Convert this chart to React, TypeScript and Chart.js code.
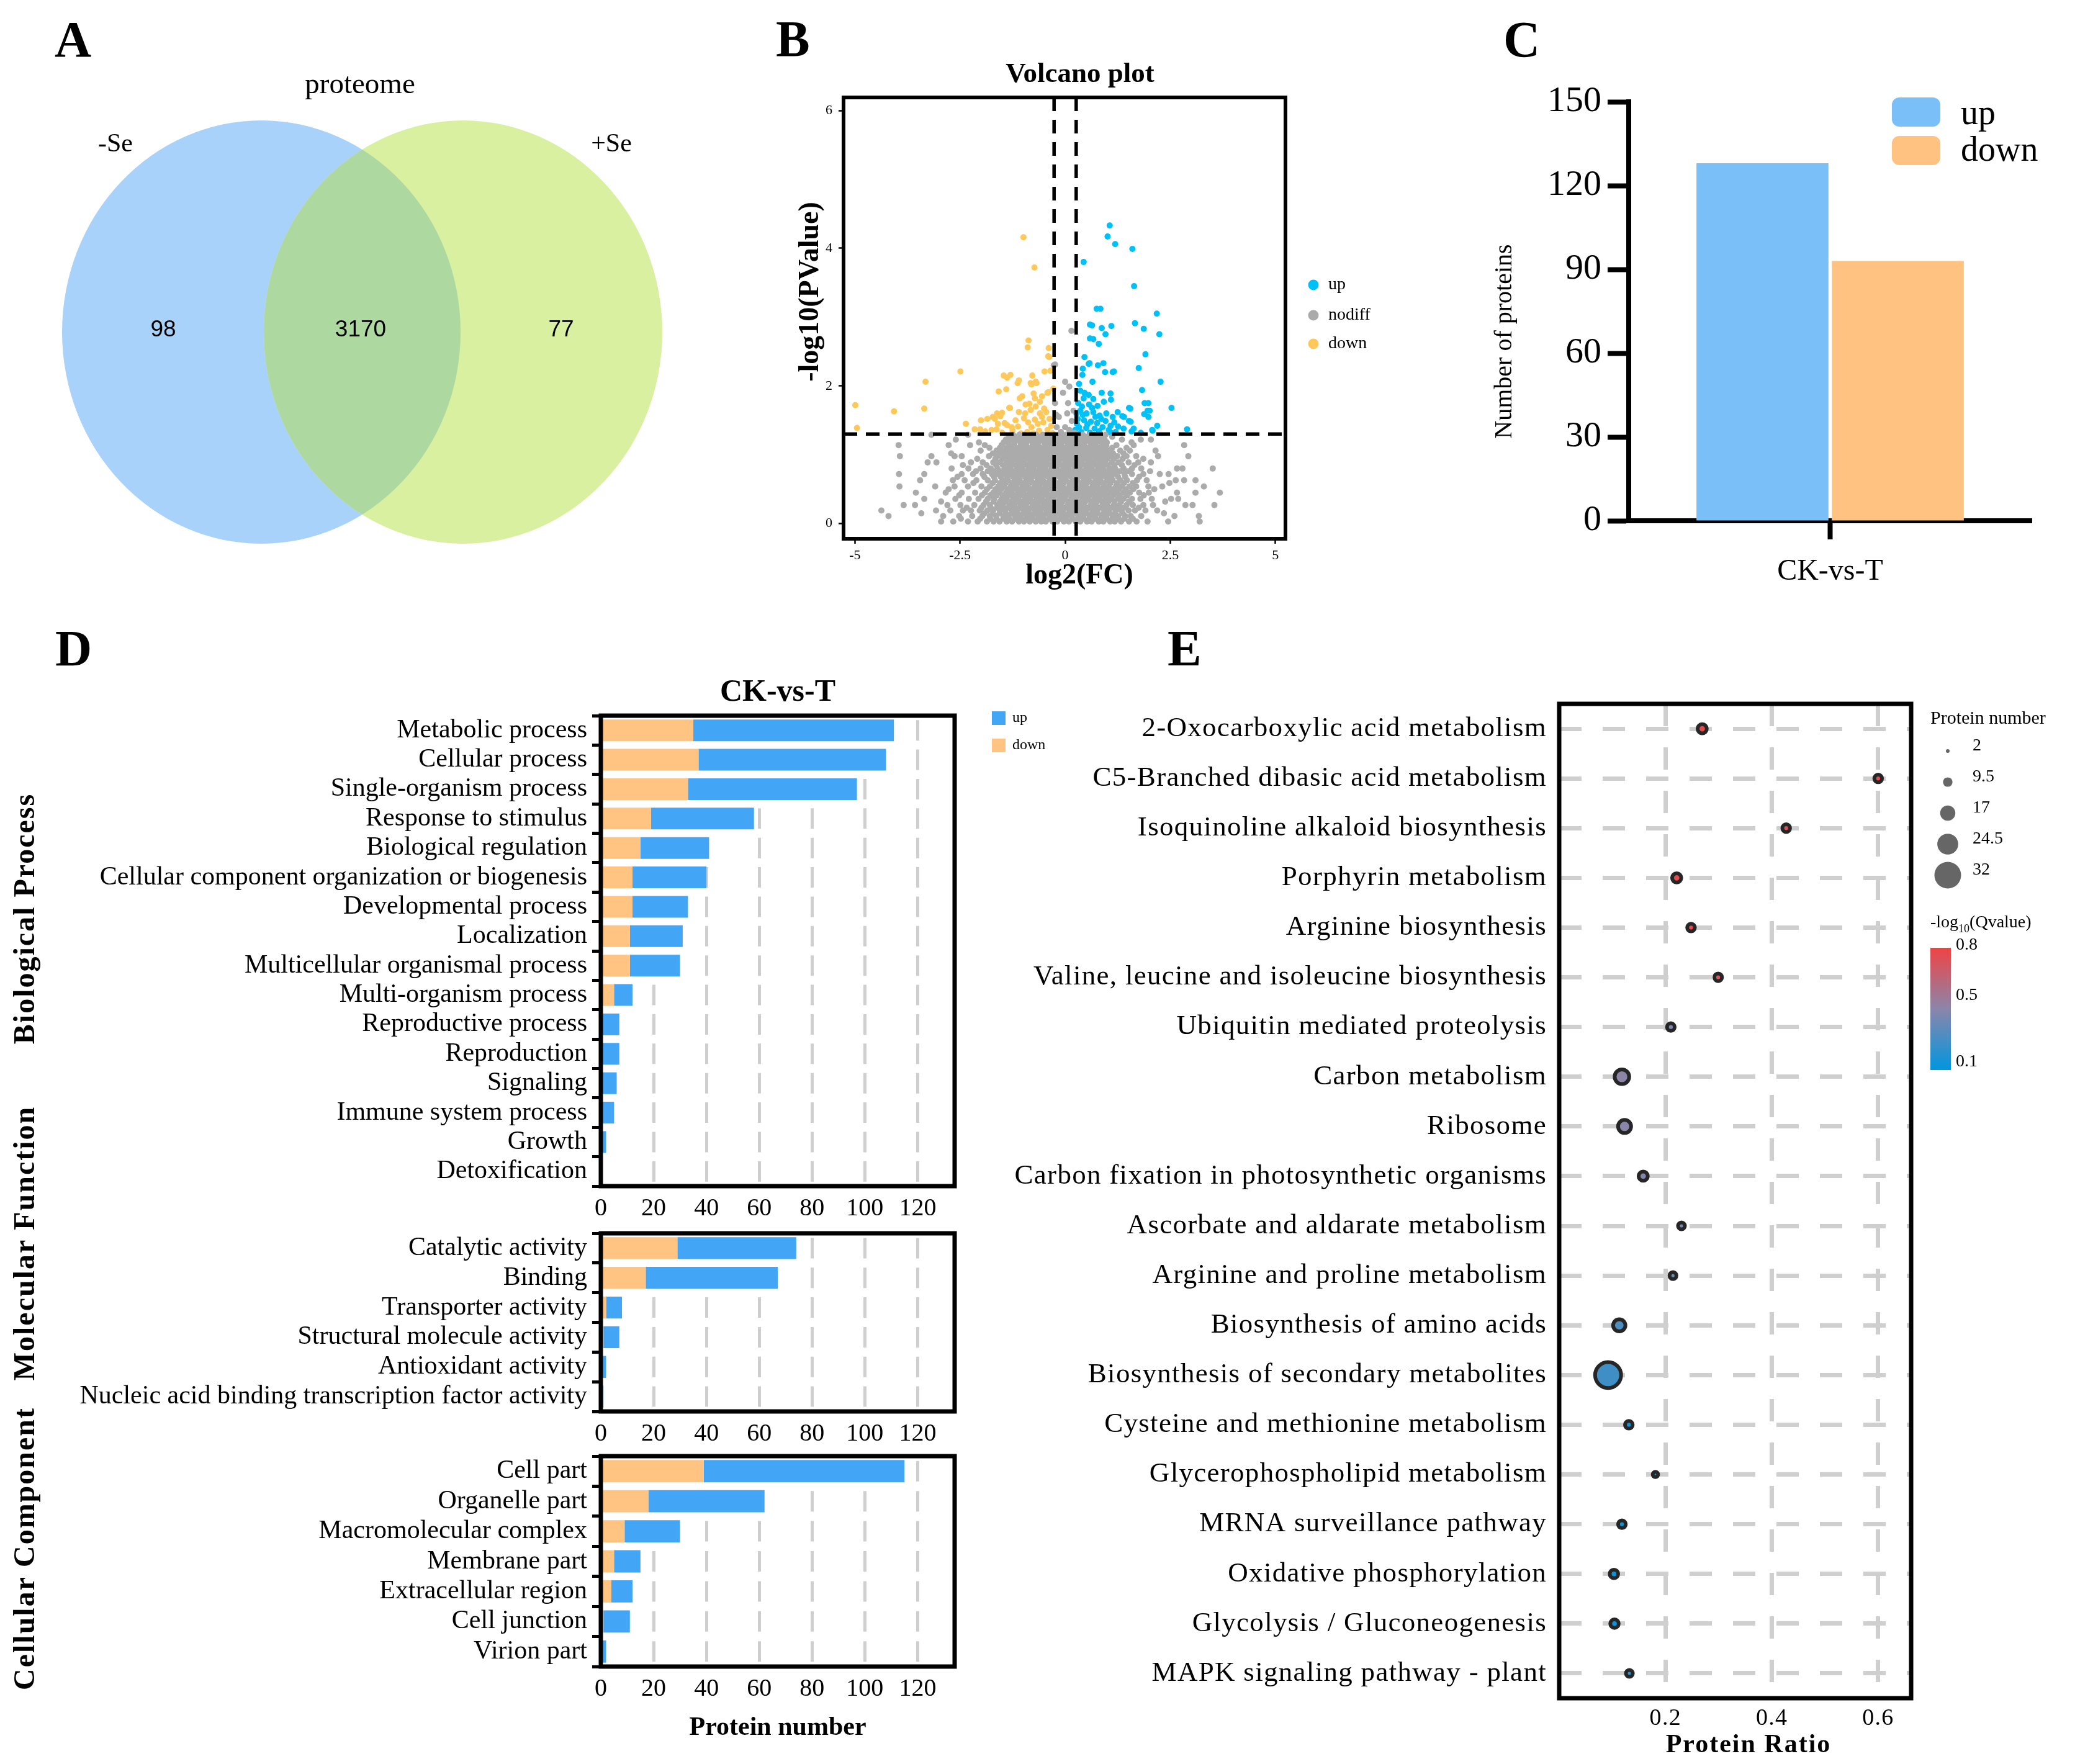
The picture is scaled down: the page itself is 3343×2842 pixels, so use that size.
import React, { useEffect, useRef } from 'react';
import { Chart, registerables } from 'chart.js';

Chart.register(...registerables);

const SERIF = "'Liberation Serif', 'Times New Roman', Times, serif";
const SANS = "'Liberation Sans', Arial, Helvetica, sans-serif";

// ---------------- A: Venn ----------------
const VENN_TITLE = 'proteome';
const VENN_SETS = ['-Se', '+Se'];
const VENN_COUNTS = [98, 3170, 77]; // only -Se, shared, only +Se

// ---------------- B: Volcano ----------------
const VOLCANO_X_TICKS = [-5, -2.5, 0, 2.5, 5];
const VOLCANO_Y_TICKS = [0, 2, 4, 6];
const FC_CUTOFFS = [-0.263, 0.263];
const P_CUTOFF = 1.301;
const VOLCANO_GROUPS = ['up', 'nodiff', 'down'];

const UP_POINTS = [
  [1.06, 4.33], [1.01, 4.17], [1.19, 4.06], [1.60, 3.99], [0.44, 3.80], [1.64, 3.45],
  [0.75, 3.12], [0.84, 3.12], [2.18, 3.05], [1.66, 2.91], [0.59, 2.89], [0.64, 2.88],
  [1.10, 2.87], [0.87, 2.84], [1.87, 2.83], [0.96, 2.75], [2.24, 2.75], [0.59, 2.69],
  [0.67, 2.68], [0.80, 2.61], [1.91, 2.46], [0.46, 2.42], [0.58, 2.33], [0.91, 2.33],
  [0.78, 2.30], [0.56, 2.32], [1.75, 2.26], [0.42, 2.25], [0.95, 2.20], [1.13, 2.20],
  [1.16, 2.21], [0.41, 2.16], [2.27, 2.06], [0.33, 2.03], [0.65, 2.06], [1.83, 1.94],
  [0.36, 1.93], [0.46, 1.90], [0.56, 1.87], [0.87, 1.90], [1.08, 1.89], [0.44, 1.82],
  [0.67, 1.81], [1.09, 1.80], [0.92, 1.77], [1.89, 1.75], [1.98, 1.75], [0.31, 1.75],
  [0.57, 1.73], [0.77, 1.71], [0.40, 1.70], [2.53, 1.68], [1.52, 1.68], [1.55, 1.67],
  [0.64, 1.68], [1.96, 1.64], [2.01, 1.64], [0.36, 1.64], [0.67, 1.62], [1.25, 1.62],
  [0.27, 1.60], [0.51, 1.60], [0.98, 1.60], [1.88, 1.59], [0.42, 1.58], [0.82, 1.57],
  [1.13, 1.55], [1.36, 1.56], [1.40, 1.55], [1.98, 1.55], [0.72, 1.55], [0.30, 1.52],
  [0.86, 1.52], [0.45, 1.50], [0.96, 1.49], [1.52, 1.49], [1.56, 1.48], [0.61, 1.48],
  [1.17, 1.47], [0.76, 1.46], [0.28, 1.45], [0.53, 1.44], [2.19, 1.42], [1.08, 1.42],
  [1.26, 1.41], [0.33, 1.40], [0.89, 1.40], [0.50, 1.39], [0.70, 1.38], [1.39, 1.38],
  [1.63, 1.38], [2.90, 1.37], [2.07, 1.36], [1.04, 1.36], [0.24, 1.36], [2.08, 1.35],
  [0.38, 1.33], [0.81, 1.34], [1.58, 1.34], [1.20, 1.33], [0.59, 1.32], [1.80, 1.32],
  [1.09, 1.32],
];

const DOWN_POINTS = [
  [-0.99, 4.16], [-0.73, 3.72], [-0.87, 2.66], [-0.89, 2.56], [-0.39, 2.55], [-0.40, 2.43],
  [-0.38, 2.42], [-2.49, 2.21], [-0.49, 2.21], [-0.35, 2.22], [-1.46, 2.15], [-1.30, 2.16],
  [-1.38, 2.12], [-0.78, 2.15], [-0.70, 2.06], [-3.32, 2.06], [-1.10, 2.08], [-0.82, 2.04],
  [-0.68, 2.04], [-1.13, 2.04], [-0.80, 2.02], [-0.28, 1.96], [-1.40, 1.95], [-1.58, 1.92],
  [-0.42, 1.90], [-0.40, 1.91], [-0.75, 1.89], [-0.55, 1.85], [-1.02, 1.85], [-1.08, 1.82],
  [-0.72, 1.82], [-0.60, 1.77], [-0.85, 1.74], [-0.94, 1.73], [-4.99, 1.72], [-0.70, 1.70],
  [-1.33, 1.68], [-1.31, 1.68], [-3.35, 1.67], [-0.50, 1.67], [-0.82, 1.65], [-4.07, 1.63],
  [-1.10, 1.62], [-0.45, 1.62], [-1.50, 1.61], [-0.95, 1.60], [-0.60, 1.60], [-1.62, 1.60],
  [-1.54, 1.56], [-1.72, 1.55], [-0.55, 1.55], [-0.98, 1.53], [-1.85, 1.52], [-1.67, 1.52],
  [-0.37, 1.52], [-0.72, 1.51], [-2.00, 1.50], [-1.18, 1.50], [-0.88, 1.47], [-0.52, 1.47],
  [-1.44, 1.46], [-2.36, 1.45], [-1.60, 1.45], [-0.65, 1.45], [-1.38, 1.43], [-0.33, 1.42],
  [-1.12, 1.41], [-1.27, 1.40], [-0.80, 1.40], [-4.95, 1.39], [-2.02, 1.37], [-2.15, 1.37],
  [-1.63, 1.37], [-1.75, 1.36], [-0.42, 1.36], [-1.25, 1.35], [-0.62, 1.35], [-0.90, 1.33],
  [-1.50, 1.32], [-1.05, 1.31], [-0.75, 1.31], [-0.30, 1.31], [-1.90, 1.34],
];

// non-significant proteins, read row by row from the dense cloud: [-log10 P, log2FC values]
const NODIFF_ROWS = [
  [0.03, [-2.95, -2.66, -2.31, -2.08, -1.86, -1.70, -1.56, -1.39, -1.26, -1.10, -0.98, -0.84, -0.70, -0.57, -0.46, -0.30, -0.19, -0.03, 0.09, 0.25, 0.36, 0.52, 0.63, 0.80, 0.91, 1.07, 1.18, 1.33, 1.52, 1.70, 1.96, 2.45, 3.20]],
  [0.07, [-2.48, -2.02, -1.78, -1.63, -1.47, -1.33, -1.18, -1.04, -0.91, -0.77, -0.63, -0.51, -0.37, -0.24, -0.11, 0.02, 0.17, 0.30, 0.44, 0.57, 0.72, 0.85, 0.99, 1.12, 1.27, 1.41, 1.61]],
  [0.11, [-4.20, -2.90, -2.52, -2.21, -1.97, -1.79, -1.64, -1.47, -1.35, -1.19, -1.07, -0.91, -0.80, -0.64, -0.52, -0.37, -0.25, -0.10, 0.04, 0.16, 0.32, 0.43, 0.59, 0.71, 0.87, 0.98, 1.14, 1.26, 1.43, 1.56, 1.81, 2.60, 3.18]],
  [0.15, [-3.42, -1.92, -1.72, -1.56, -1.41, -1.27, -1.13, -0.99, -0.85, -0.72, -0.58, -0.44, -0.31, -0.18, -0.04, 0.09, 0.23, 0.37, 0.51, 0.64, 0.78, 0.92, 1.06, 1.19, 1.37, 2.35]],
  [0.19, [-4.37, -3.07, -2.73, -2.43, -2.24, -2.03, -1.85, -1.71, -1.55, -1.43, -1.27, -1.15, -0.99, -0.88, -0.72, -0.60, -0.45, -0.33, -0.17, -0.06, 0.10, 0.22, 0.37, 0.49, 0.65, 0.77, 0.93, 1.04, 1.20, 1.33, 1.51, 1.66, 1.91, 2.19]],
  [0.23, [-2.34, -1.99, -1.77, -1.62, -1.49, -1.36, -1.21, -1.08, -0.94, -0.81, -0.67, -0.54, -0.40, -0.27, -0.13, 0.00, 0.14, 0.27, 0.41, 0.55, 0.68, 0.82, 0.96, 1.10, 1.24, 1.40, 1.75]],
  [0.27, [-3.84, -3.57, -2.80, -2.49, -2.16, -1.94, -1.79, -1.61, -1.48, -1.32, -1.20, -1.05, -0.93, -0.77, -0.65, -0.50, -0.38, -0.22, -0.10, 0.06, 0.18, 0.33, 0.45, 0.61, 0.73, 0.89, 1.00, 1.16, 1.29, 1.46, 1.61, 1.86, 2.09, 2.86, 3.03, 3.55]],
  [0.32, [-2.95, -1.88, -1.70, -1.55, -1.42, -1.28, -1.14, -1.00, -0.87, -0.73, -0.60, -0.46, -0.33, -0.19, -0.06, 0.08, 0.21, 0.35, 0.48, 0.62, 0.76, 0.89, 1.03, 1.17, 1.33, 1.52, 2.38]],
  [0.36, [-3.35, -2.61, -2.29, -2.06, -1.84, -1.69, -1.51, -1.39, -1.23, -1.11, -0.95, -0.84, -0.68, -0.56, -0.40, -0.29, -0.13, -0.01, 0.15, 0.26, 0.42, 0.54, 0.70, 0.82, 0.97, 1.09, 1.26, 1.39, 1.59, 1.79, 2.06, 2.52, 2.69]],
  [0.41, [-2.52, -1.98, -1.78, -1.63, -1.48, -1.34, -1.20, -1.06, -0.92, -0.79, -0.65, -0.51, -0.38, -0.24, -0.10, 0.03, 0.17, 0.31, 0.45, 0.59, 0.73, 0.86, 1.00, 1.15, 1.30, 1.47, 1.87]],
  [0.45, [-3.55, -2.84, -2.46, -2.14, -1.91, -1.71, -1.57, -1.40, -1.28, -1.12, -1.00, -0.84, -0.72, -0.57, -0.45, -0.29, -0.17, -0.02, 0.10, 0.26, 0.38, 0.53, 0.65, 0.81, 0.93, 1.08, 1.21, 1.39, 1.54, 1.76, 1.99, 2.66, 3.10, 3.68]],
  [0.50, [-2.77, -1.86, -1.66, -1.52, -1.37, -1.23, -1.09, -0.95, -0.81, -0.67, -0.54, -0.40, -0.26, -0.12, 0.02, 0.15, 0.29, 0.43, 0.57, 0.71, 0.85, 0.98, 1.13, 1.28, 1.44, 1.62, 2.12]],
  [0.54, [-3.94, -3.09, -2.63, -2.31, -1.99, -1.79, -1.59, -1.45, -1.29, -1.17, -1.01, -0.89, -0.73, -0.61, -0.46, -0.34, -0.18, -0.06, 0.10, 0.21, 0.37, 0.49, 0.65, 0.77, 0.92, 1.04, 1.21, 1.35, 1.53, 1.69, 1.98, 2.31, 3.30]],
  [0.59, [-2.18, -1.72, -1.55, -1.41, -1.26, -1.12, -0.98, -0.85, -0.71, -0.57, -0.43, -0.30, -0.16, -0.03, 0.11, 0.25, 0.39, 0.52, 0.66, 0.80, 0.93, 1.08, 1.24, 1.40, 1.61, 2.48]],
  [0.63, [-3.45, -2.67, -2.39, -2.11, -1.84, -1.67, -1.49, -1.36, -1.20, -1.08, -0.92, -0.81, -0.65, -0.53, -0.37, -0.26, -0.10, 0.02, 0.18, 0.29, 0.45, 0.57, 0.73, 0.84, 1.00, 1.13, 1.31, 1.47, 1.71, 1.94, 2.63, 2.83, 3.10]],
  [0.68, [-2.56, -1.92, -1.69, -1.53, -1.38, -1.24, -1.10, -0.96, -0.82, -0.69, -0.55, -0.41, -0.27, -0.14, 0.00, 0.14, 0.28, 0.41, 0.55, 0.69, 0.83, 0.96, 1.10, 1.26, 1.43, 1.76]],
  [0.72, [-3.95, -3.35, -2.46, -2.19, -1.96, -1.74, -1.59, -1.42, -1.29, -1.13, -1.01, -0.85, -0.73, -0.58, -0.46, -0.30, -0.18, -0.03, 0.09, 0.25, 0.37, 0.52, 0.64, 0.80, 0.92, 1.07, 1.21, 1.41, 1.59, 1.86, 2.25, 2.46]],
  [0.76, [-2.12, -1.84, -1.66, -1.51, -1.36, -1.22, -1.08, -0.94, -0.80, -0.66, -0.53, -0.39, -0.25, -0.11, 0.02, 0.16, 0.30, 0.44, 0.58, 0.72, 0.85, 0.99, 1.13, 1.30, 1.50, 2.02]],
  [0.80, [-2.70, -2.30, -2.01, -1.77, -1.61, -1.43, -1.30, -1.14, -1.02, -0.86, -0.75, -0.59, -0.47, -0.31, -0.20, -0.04, 0.08, 0.24, 0.35, 0.51, 0.63, 0.79, 0.90, 1.06, 1.19, 1.39, 1.59, 1.81, 2.66, 2.79, 3.51]],
  [0.85, [-2.43, -1.87, -1.64, -1.48, -1.33, -1.19, -1.05, -0.91, -0.78, -0.64, -0.50, -0.36, -0.23, -0.09, 0.05, 0.19, 0.32, 0.46, 0.60, 0.74, 0.87, 1.01, 1.17, 1.35, 1.65]],
  [0.89, [-3.27, -3.06, -2.24, -1.96, -1.71, -1.56, -1.39, -1.27, -1.11, -0.99, -0.83, -0.71, -0.56, -0.44, -0.28, -0.16, 0.00, 0.12, 0.27, 0.39, 0.55, 0.67, 0.82, 0.94, 1.11, 1.27, 1.51, 1.74, 2.04]],
  [0.94, [-2.09, -1.66, -1.49, -1.34, -1.20, -1.06, -0.93, -0.79, -0.65, -0.51, -0.38, -0.24, -0.10, 0.03, 0.17, 0.31, 0.45, 0.59, 0.72, 0.86, 1.00, 1.16, 1.37, 1.86]],
  [0.98, [-3.93, -3.18, -2.63, -2.46, -1.81, -1.61, -1.42, -1.30, -1.14, -1.02, -0.86, -0.74, -0.59, -0.47, -0.31, -0.19, -0.04, 0.08, 0.24, 0.36, 0.51, 0.63, 0.79, 0.91, 1.07, 1.24, 1.46, 1.69, 2.21, 2.93]],
  [1.02, [-2.71, -1.72, -1.52, -1.37, -1.22, -1.08, -0.94, -0.81, -0.67, -0.53, -0.40, -0.26, -0.12, 0.01, 0.15, 0.29, 0.42, 0.56, 0.70, 0.84, 0.97, 1.14, 1.39]],
  [1.06, [-2.01, -1.63, -1.44, -1.31, -1.15, -1.03, -0.87, -0.75, -0.60, -0.48, -0.32, -0.20, -0.04, 0.07, 0.23, 0.35, 0.51, 0.63, 0.78, 0.90, 1.04, 1.31, 1.54, 2.15]],
  [1.10, [-1.80, -1.55, -1.39, -1.25, -1.11, -0.97, -0.83, -0.69, -0.55, -0.42, -0.28, -0.14, 0.00, 0.13, 0.27, 0.41, 0.55, 0.69, 0.83, 0.96, 1.12, 1.46]],
  [1.14, [-3.96, -2.77, -2.26, -1.91, -1.51, -1.33, -1.21, -1.05, -0.93, -0.77, -0.65, -0.49, -0.37, -0.22, -0.10, 0.06, 0.18, 0.34, 0.45, 0.61, 0.73, 0.89, 0.98, 1.22, 1.63, 2.83]],
  [1.18, [-2.05, -1.46, -1.35, -1.20, -1.06, -0.92, -0.78, -0.64, -0.50, -0.37, -0.23, -0.09, 0.04, 0.18, 0.32, 0.46, 0.60, 0.74, 0.87, 0.99, 1.58]],
  [1.22, [-2.60, -1.41, -1.28, -1.12, -1.00, -0.84, -0.72, -0.56, -0.44, -0.28, -0.17, -0.01, 0.11, 0.27, 0.39, 0.54, 0.66, 0.82, 0.94, 1.35, 1.80, 2.04]],
  [1.26, [-1.33, -1.18, -1.04, -0.90, -0.76, -0.62, -0.49, -0.35, -0.21, -0.07, 0.07, 0.21, 0.35, 0.49, 0.63, 0.77, 0.91, 1.12]],
  [1.29, [-3.18, -2.31, -1.24, -1.09, -0.97, -0.81, -0.69, -0.53, -0.41, -0.25, -0.13, 0.02, 0.14, 0.30, 0.42, 0.58, 0.69, 0.85, 0.96]],
];
const NODIFF_EXTRA = [
  [0.15, 2.80], [-0.27, 2.30], [-0.24, 2.31], [0.00, 2.06], [0.10, 1.99], [-0.05, 1.90],
  [-0.24, 1.75], [0.07, 1.75], [0.20, 1.64], [0.05, 1.60], [-0.21, 1.58], [-0.15, 1.55],
  [0.16, 1.49], [0.00, 1.40], [-0.20, 1.40], [0.10, 1.36], [-0.10, 1.33], [0.22, 1.32],
];

// ---------------- C: counts ----------------
const C_CATEGORIES = ['CK-vs-T'];
const C_UP = [128];
const C_DOWN = [93];
const C_Y_TICKS = [0, 30, 60, 90, 120, 150];

// ---------------- D: GO classification ----------------
const D_X_TICKS = [0, 20, 40, 60, 80, 100, 120];
const BP_LABELS = [
  'Metabolic process', 'Cellular process', 'Single-organism process', 'Response to stimulus',
  'Biological regulation', 'Cellular component organization or biogenesis', 'Developmental process',
  'Localization', 'Multicellular organismal process', 'Multi-organism process', 'Reproductive process',
  'Reproduction', 'Signaling', 'Immune system process', 'Growth', 'Detoxification',
];
const BP_DOWN = [35, 37, 33, 19, 15, 12, 12, 11, 11, 5, 0, 0, 0, 0, 0, 0];
const BP_UP = [76, 71, 64, 39, 26, 28, 21, 20, 19, 7, 7, 7, 6, 5, 2, 0];
const MF_LABELS = [
  'Catalytic activity', 'Binding', 'Transporter activity', 'Structural molecule activity',
  'Antioxidant activity', 'Nucleic acid binding transcription factor activity',
];
const MF_DOWN = [29, 17, 2, 1, 0, 0];
const MF_UP = [45, 50, 6, 6, 2, 1];
const CC_LABELS = [
  'Cell part', 'Organelle part', 'Macromolecular complex', 'Membrane part',
  'Extracellular region', 'Cell junction', 'Virion part',
];
const CC_DOWN = [39, 18, 9, 5, 4, 1, 0];
const CC_UP = [76, 44, 21, 10, 8, 10, 2];

// ---------------- E: KEGG enrichment ----------------
const KEGG_TERMS = [
  '2-Oxocarboxylic acid metabolism', 'C5-Branched dibasic acid metabolism',
  'Isoquinoline alkaloid biosynthesis', 'Porphyrin metabolism', 'Arginine biosynthesis',
  'Valine, leucine and isoleucine biosynthesis', 'Ubiquitin mediated proteolysis',
  'Carbon metabolism', 'Ribosome', 'Carbon fixation in photosynthetic organisms',
  'Ascorbate and aldarate metabolism', 'Arginine and proline metabolism',
  'Biosynthesis of amino acids', 'Biosynthesis of secondary metabolites',
  'Cysteine and methionine metabolism', 'Glycerophospholipid metabolism',
  'MRNA surveillance pathway', 'Oxidative phosphorylation', 'Glycolysis / Gluconeogenesis',
  'MAPK signaling pathway - plant',
];
const KEGG_RATIO = [0.269, 0.600, 0.427, 0.221, 0.248, 0.299, 0.210, 0.118, 0.123, 0.158,
  0.230, 0.214, 0.113, 0.092, 0.131, 0.181, 0.118, 0.103, 0.104, 0.132];
const KEGG_COUNT = [14, 12, 12, 14, 12, 12, 12, 21, 19, 14, 11, 11, 18, 36, 12, 9, 12, 13, 13, 11];
const KEGG_NEGLOGQ = [0.78, 0.76, 0.72, 0.77, 0.77, 0.70, 0.42, 0.46, 0.45, 0.43,
  0.40, 0.38, 0.30, 0.26, 0.14, 0.15, 0.13, 0.12, 0.12, 0.20];
const E_X_TICKS = [0.2, 0.4, 0.6];
const SIZE_BREAKS = [2, 9.5, 17, 24.5, 32];
const Q_BREAKS = [0.8, 0.5, 0.1];

// ---------------- styling helpers ----------------
const COL = {
  vennL: '#A8D2FA', vennR: '#D8F0A0', vennMid: '#ADD9A0',
  up: '#00C0F8', nodiff: '#ABABAB', down: '#FFC85A',
  cUp: '#7BBFF9', cDown: '#FFC280',
  dUp: '#42A5F5', dDown: '#FFC382',
  grid: '#CFCFCF',
};

function qColor(q: number) {
  const stops: [number, number[]][] = [[0.1, [0, 150, 222]], [0.45, [138, 134, 170]], [0.8, [238, 68, 68]]];
  const v = Math.max(0.1, Math.min(0.8, q));
  let i = 0;
  while (i < stops.length - 2 && v > stops[i + 1][0]) i++;
  const [a, ca] = stops[i];
  const [b, cb] = stops[i + 1];
  const t = (v - a) / (b - a);
  const c = ca.map((x, k) => Math.round(x + (cb[k] - x) * t));
  return `rgb(${c[0]},${c[1]},${c[2]})`;
}
const sizeDiameter = (n: number) => 6 + 1.233 * (n - 2);
const E_BORDER = 6;

type TextItem = {
  t: string; x: number; y: number; size: number; bold?: boolean; family?: string;
  align?: CanvasTextAlign; base?: CanvasTextBaseline; rot?: number; spacing?: number;
};

function textPlugin(id: string, items: TextItem[]) {
  return {
    id,
    afterDraw(chart: any) {
      const ctx = chart.ctx;
      for (const it of items) {
        ctx.save();
        ctx.translate(it.x, it.y);
        if (it.rot) ctx.rotate(it.rot);
        ctx.font = `${it.bold ? 'bold ' : ''}${it.size}px ${it.family || SERIF}`;
        if ('letterSpacing' in ctx) (ctx as any).letterSpacing = `${it.spacing || 0}px`;
        ctx.fillStyle = '#000';
        ctx.textAlign = it.align || 'center';
        ctx.textBaseline = it.base || 'alphabetic';
        ctx.fillText(it.t, 0, 0);
        ctx.restore();
      }
    },
  };
}

// widens the lettering of a whole chart (the reference text is slightly stretched)
function spacingPlugin(px: number) {
  return {
    id: 'spacing',
    beforeDraw(chart: any) {
      if ('letterSpacing' in chart.ctx) chart.ctx.letterSpacing = `${px}px`;
    },
    afterDraw(chart: any) {
      if ('letterSpacing' in chart.ctx) chart.ctx.letterSpacing = '0px';
    },
  };
}

function framePlugin(width: number) {
  return {
    id: 'frame',
    afterDatasetsDraw(chart: any) {
      const { left, top, right, bottom } = chart.chartArea;
      const ctx = chart.ctx;
      ctx.save();
      ctx.lineWidth = width;
      ctx.strokeStyle = '#000';
      ctx.strokeRect(left, top, right - left, bottom - top);
      ctx.restore();
    },
  };
}

function baseOptions(padding: any) {
  return {
    responsive: false,
    animation: false,
    devicePixelRatio: 1,
    events: [],
    layout: { padding },
    plugins: { legend: { display: false }, tooltip: { enabled: false }, title: { display: false } },
  };
}

const fixedTicks = (vals: number[]) => (s: any) => { s.ticks = vals.map((v) => ({ value: v })); };

// ---------------- A ----------------
const VENN_LAYOUT = {
  ellipses: [
    { cx: 421, cy: 535, rx: 321, ry: 341 },
    { cx: 746, cy: 535, rx: 321, ry: 341 },
  ],
  countPos: [[263, 542], [581, 542], [904, 542]],
  setPos: [[186, 244], [985, 244]],
  titlePos: [580, 150],
};

const vennPlugin = {
  id: 'venn',
  beforeDatasetsDraw(chart: any) {
    const { ctx } = chart;
    const { x, y } = chart.scales;
    const sx = Math.abs(x.getPixelForValue(1) - x.getPixelForValue(0));
    const sy = Math.abs(y.getPixelForValue(1) - y.getPixelForValue(0));
    const path = (e: any) => {
      ctx.beginPath();
      ctx.ellipse(x.getPixelForValue(e.cx), y.getPixelForValue(e.cy), e.rx * sx, e.ry * sy, 0, 0, Math.PI * 2);
    };
    const [L, R] = VENN_LAYOUT.ellipses;
    ctx.save();
    path(L); ctx.fillStyle = COL.vennL; ctx.fill();
    path(R); ctx.fillStyle = COL.vennR; ctx.fill();
    path(L); ctx.clip();
    path(R); ctx.fillStyle = COL.vennMid; ctx.fill();
    ctx.restore();

    ctx.save();
    ctx.fillStyle = '#000';
    ctx.textAlign = 'center';
    ctx.textBaseline = 'alphabetic';
    ctx.font = `37px ${SANS}`;
    VENN_COUNTS.forEach((c, i) => {
      const [px, py] = VENN_LAYOUT.countPos[i];
      ctx.fillText(String(c), x.getPixelForValue(px), y.getPixelForValue(py));
    });
    ctx.font = `42px ${SERIF}`;
    VENN_SETS.forEach((s, i) => {
      const [px, py] = VENN_LAYOUT.setPos[i];
      ctx.fillText(s, x.getPixelForValue(px), y.getPixelForValue(py));
    });
    ctx.font = `47px ${SERIF}`;
    ctx.fillText(VENN_TITLE, x.getPixelForValue(VENN_LAYOUT.titlePos[0]), y.getPixelForValue(VENN_LAYOUT.titlePos[1]));
    ctx.restore();
  },
};

function vennConfig() {
  return {
    type: 'scatter',
    data: { datasets: [{ data: [], pointRadius: 0 }] },
    options: {
      ...baseOptions({ left: 0, right: 0, top: 0, bottom: 0 }),
      scales: {
        x: { type: 'linear', min: 0, max: 1100, display: false },
        y: { type: 'linear', min: 0, max: 900, reverse: true, display: false },
      },
    },
    plugins: [vennPlugin, textPlugin('aText', [{ t: 'A', x: 88, y: 91, size: 82, bold: true, align: 'left' }])],
  };
}

// ---------------- B ----------------
const thresholdPlugin = {
  id: 'thresholds',
  afterDatasetsDraw(chart: any) {
    const { ctx, chartArea } = chart;
    const { x, y } = chart.scales;
    ctx.save();
    ctx.strokeStyle = '#000';
    ctx.lineWidth = 5.5;
    ctx.setLineDash([22, 14]);
    FC_CUTOFFS.forEach((v) => {
      const px = x.getPixelForValue(v);
      ctx.beginPath(); ctx.moveTo(px, chartArea.top); ctx.lineTo(px, chartArea.bottom); ctx.stroke();
    });
    const py = y.getPixelForValue(P_CUTOFF);
    ctx.beginPath(); ctx.moveTo(chartArea.left, py); ctx.lineTo(chartArea.right, py); ctx.stroke();
    ctx.restore();
  },
};

const volcanoLegend = {
  id: 'volcanoLegend',
  afterDraw(chart: any) {
    const ctx = chart.ctx;
    const colors: any = { up: COL.up, nodiff: COL.nodiff, down: COL.down };
    const ys = [459, 508, 554];
    ctx.save();
    VOLCANO_GROUPS.forEach((g, i) => {
      ctx.beginPath(); ctx.arc(896, ys[i], 8.5, 0, Math.PI * 2); ctx.fillStyle = colors[g]; ctx.fill();
      ctx.fillStyle = '#000'; ctx.font = `28px ${SERIF}`; ctx.textAlign = 'left'; ctx.textBaseline = 'middle';
      ctx.fillText(g, 920, ys[i]);
    });
    ctx.restore();
  },
};

function volcanoConfig() {
  const nodiff: any[] = [];
  NODIFF_ROWS.forEach(([yv, xs]: any) => xs.forEach((xv: number) => nodiff.push({ x: xv, y: yv })));
  NODIFF_EXTRA.forEach(([xv, yv]) => nodiff.push({ x: xv, y: yv }));
  const pts = (arr: number[][]) => arr.map(([xv, yv]) => ({ x: xv, y: yv }));
  const ds = (label: string, data: any[], color: string) => ({
    label, data, pointRadius: 5, pointBackgroundColor: color, pointBorderWidth: 0, pointBorderColor: color,
  });
  return {
    type: 'scatter',
    data: {
      datasets: [
        ds('nodiff', nodiff, COL.nodiff),
        ds('up', pts(UP_POINTS), COL.up),
        ds('down', pts(DOWN_POINTS), COL.down),
      ],
    },
    options: {
      ...baseOptions({ left: 0, right: 289, top: 157, bottom: 0 }),
      scales: {
        x: {
          type: 'linear', min: -5.27, max: 5.24,
          afterBuildTicks: fixedTicks(VOLCANO_X_TICKS),
          afterFit: (s: any) => { s.height = 112; },
          grid: { drawOnChartArea: false, drawTicks: true, tickLength: 8, tickWidth: 2.5, tickColor: '#000' },
          border: { display: false },
          ticks: { font: { size: 22, family: SERIF }, color: '#000', padding: 6, maxRotation: 0, callback: (v: any) => String(v) },
        },
        y: {
          type: 'linear', min: -0.22, max: 6.19,
          afterBuildTicks: fixedTicks(VOLCANO_Y_TICKS),
          afterFit: (s: any) => { s.width = 139; },
          grid: { drawOnChartArea: false, drawTicks: true, tickLength: 8, tickWidth: 2.5, tickColor: '#000' },
          border: { display: false },
          ticks: { font: { size: 22, family: SERIF }, color: '#000', padding: 10, callback: (v: any) => String(v) },
        },
      },
    },
    plugins: [
      thresholdPlugin, framePlugin(6), volcanoLegend,
      textPlugin('bText', [
        { t: 'B', x: 30, y: 90, size: 82, bold: true, align: 'left' },
        { t: 'Volcano plot', x: 520, y: 132, size: 45, bold: true },
        { t: 'log2(FC)', x: 519, y: 940, size: 46, bold: true },
        { t: '-log10(PValue)', x: 86, y: 470, size: 46, bold: true, base: 'middle', rot: -Math.PI / 2 },
      ]),
    ],
  };
}

// ---------------- C ----------------
const cLegend = {
  id: 'cLegend',
  afterDraw(chart: any) {
    const ctx = chart.ctx;
    const items = [
      { label: 'up', color: COL.cUp, top: 157, base: 200 },
      { label: 'down', color: COL.cDown, top: 219, base: 259 },
    ];
    ctx.save();
    items.forEach((it) => {
      ctx.beginPath();
      if (ctx.roundRect) ctx.roundRect(668, it.top, 78, 47, 12); else ctx.rect(668, it.top, 78, 47);
      ctx.fillStyle = it.color; ctx.fill();
      ctx.fillStyle = '#000'; ctx.font = `56px ${SERIF}`; ctx.textAlign = 'left'; ctx.textBaseline = 'alphabetic';
      ctx.fillText(it.label, 779, it.base);
    });
    ctx.restore();
  },
};

function barConfig() {
  return {
    type: 'bar',
    data: {
      labels: C_CATEGORIES,
      datasets: [
        { label: 'up', data: C_UP, backgroundColor: COL.cUp, categoryPercentage: 0.672, barPercentage: 0.975 },
        { label: 'down', data: C_DOWN, backgroundColor: COL.cDown, categoryPercentage: 0.672, barPercentage: 0.975 },
      ],
    },
    options: {
      ...baseOptions({ left: 0, right: 70, top: 164, bottom: 0 }),
      scales: {
        x: {
          afterFit: (s: any) => { s.height = 141; },
          grid: { offset: false, drawOnChartArea: false, drawTicks: true, tickLength: 30, tickWidth: 8, tickColor: '#000' },
          border: { display: true, color: '#000', width: 8 },
          ticks: { font: { size: 48, family: SERIF }, color: '#000', padding: 24 },
        },
        y: {
          min: 0, max: 150,
          afterBuildTicks: fixedTicks(C_Y_TICKS),
          afterFit: (s: any) => { s.width = 244; },
          grid: { drawOnChartArea: false, drawTicks: true, tickLength: 34, tickWidth: 8, tickColor: '#000' },
          border: { display: true, color: '#000', width: 8 },
          ticks: { font: { size: 58, family: SERIF }, color: '#000', padding: 10, callback: (v: any) => String(v) },
        },
      },
    },
    plugins: [
      cLegend,
      textPlugin('cText', [
        { t: 'C', x: 42, y: 91, size: 82, bold: true, align: 'left' },
        { t: 'Number of proteins', x: 44, y: 550, size: 40, base: 'middle', rot: -Math.PI / 2 },
      ]),
    ],
  };
}

// ---------------- D ----------------
const D_W = 1760;
const D_H = 1842;
const D_LEFT = 968;
const D_RIGHT = 1538;

const dLegend = {
  id: 'dLegend',
  afterDraw(chart: any) {
    const ctx = chart.ctx;
    const items = [{ label: 'up', color: COL.dUp, y: 157 }, { label: 'down', color: COL.dDown, y: 201 }];
    ctx.save();
    items.forEach((it) => {
      ctx.fillStyle = it.color; ctx.fillRect(1598, it.y - 11, 22, 22);
      ctx.fillStyle = '#000'; ctx.font = `24px ${SERIF}`; ctx.textAlign = 'left'; ctx.textBaseline = 'middle';
      ctx.fillText(it.label, 1631, it.y);
    });
    ctx.restore();
  },
};

function dConfig(labels: string[], down: number[], up: number[], top: number, bottom: number, extra: any[]) {
  const catH = (bottom - top) / labels.length;
  const dash = 33;
  const gap = catH - dash;
  const dashOffset = catH - gap / 2;
  return {
    type: 'bar',
    data: {
      labels,
      datasets: [
        { label: 'down', data: down, backgroundColor: COL.dDown, barPercentage: 0.74, categoryPercentage: 1 },
        { label: 'up', data: up, backgroundColor: COL.dUp, barPercentage: 0.74, categoryPercentage: 1 },
      ],
    },
    options: {
      ...baseOptions({ left: 0, right: D_W - D_RIGHT, top, bottom: 0 }),
      indexAxis: 'y',
      scales: {
        x: {
          type: 'linear', stacked: true, min: 0, max: 134,
          afterBuildTicks: fixedTicks(D_X_TICKS),
          afterFit: (s: any) => { s.height = D_H - bottom; },
          grid: {
            color: (c: any) => (c.tick && c.tick.value === 0 ? 'rgba(0,0,0,0)' : COL.grid),
            lineWidth: 5, drawTicks: false,
          },
          border: { display: false, dash: [dash, gap], dashOffset },
          ticks: { font: { size: 40, family: SERIF }, color: '#000', padding: 12, maxRotation: 0, callback: (v: any) => String(v) },
        },
        y: {
          type: 'category', stacked: true,
          afterFit: (s: any) => { s.width = D_LEFT; },
          grid: { drawOnChartArea: false, drawTicks: true, tickLength: 14, tickWidth: 5, tickColor: '#000' },
          border: { display: false },
          ticks: { font: { size: 42, family: SERIF }, color: '#000', padding: 8, autoSkip: false },
        },
      },
    },
    plugins: [framePlugin(7), ...extra],
  };
}

const bpConfig = () => dConfig(BP_LABELS, BP_DOWN, BP_UP, 153, 911, [
  dLegend,
  textPlugin('dText', [
    { t: 'D', x: 89, y: 72, size: 82, bold: true, align: 'left' },
    { t: 'CK-vs-T', x: 1253, y: 129, size: 50, bold: true },
    { t: 'Biological Process', x: 43, y: 480, size: 48, bold: true, base: 'middle', rot: -Math.PI / 2, spacing: 2 },
    { t: 'Molecular Function', x: 43, y: 1003, size: 48, bold: true, base: 'middle', rot: -Math.PI / 2, spacing: 2 },
    { t: 'Cellular Component', x: 43, y: 1495, size: 48, bold: true, base: 'middle', rot: -Math.PI / 2, spacing: 2 },
    { t: 'Protein number', x: 1253, y: 1795, size: 42, bold: true },
  ]),
]);
const mfConfig = () => dConfig(MF_LABELS, MF_DOWN, MF_UP, 987, 1274, []);
const ccConfig = () => dConfig(CC_LABELS, CC_DOWN, CC_UP, 1346, 1685, []);

// ---------------- E ----------------
const keggLegend = {
  id: 'keggLegend',
  afterDraw(chart: any) {
    const ctx = chart.ctx;
    ctx.save();
    ctx.fillStyle = '#000';
    ctx.font = `30px ${SERIF}`;
    ctx.textAlign = 'left';
    ctx.textBaseline = 'alphabetic';
    ctx.fillText('Protein number', 1510, 166);
    SIZE_BREAKS.forEach((n, i) => {
      const cy = 210 + i * 50;
      ctx.beginPath(); ctx.arc(1538, cy, sizeDiameter(n) / 2, 0, Math.PI * 2);
      ctx.fillStyle = '#666666'; ctx.fill();
      ctx.fillStyle = '#000'; ctx.font = `28px ${SERIF}`; ctx.textBaseline = 'middle';
      ctx.fillText(String(n), 1578, cy - 8);
    });
    // colour bar title: -log10(Qvalue)
    ctx.textBaseline = 'middle';
    ctx.font = `28px ${SERIF}`;
    let tx = 1510;
    ctx.fillText('-log', tx, 487); tx += ctx.measureText('-log').width;
    ctx.font = `18px ${SERIF}`;
    ctx.fillText('10', tx, 497); tx += ctx.measureText('10').width;
    ctx.font = `28px ${SERIF}`;
    ctx.fillText('(Qvalue)', tx, 487);
    const top = 527, h = 197;
    const grd = ctx.createLinearGradient(0, top, 0, top + h);
    grd.addColorStop(0, qColor(0.8));
    grd.addColorStop(0.5, qColor(0.45));
    grd.addColorStop(1, qColor(0.1));
    ctx.fillStyle = grd;
    ctx.fillRect(1510, top, 33, h);
    ctx.fillStyle = '#000';
    Q_BREAKS.forEach((q) => {
      const yy = 523 + ((0.8 - q) / 0.7) * 188;
      ctx.fillText(q.toFixed(1), 1551, yy);
    });
    ctx.restore();
  },
};

function keggConfig() {
  return {
    type: 'scatter',
    data: {
      datasets: [{
        label: 'KEGG',
        data: KEGG_TERMS.map((t, i) => ({ x: KEGG_RATIO[i], y: t })),
        pointRadius: (c: any) => (sizeDiameter(KEGG_COUNT[c.dataIndex]) - E_BORDER) / 2,
        pointBackgroundColor: (c: any) => qColor(KEGG_NEGLOGQ[c.dataIndex]),
        pointBorderColor: '#262626',
        pointBorderWidth: E_BORDER,
      }],
    },
    options: {
      ...baseOptions({ left: 0, right: 264, top: 134, bottom: 0 }),
      scales: {
        x: {
          type: 'linear', min: 0, max: 0.662,
          afterBuildTicks: fixedTicks(E_X_TICKS),
          afterFit: (s: any) => { s.height = 106; },
          grid: { color: COL.grid, lineWidth: 7, drawTicks: false },
          border: { display: false, dash: [36, 34], dashOffset: 0 },
          ticks: { font: { size: 38, family: SERIF }, color: '#000', padding: 10, maxRotation: 0, callback: (v: any) => Number(v).toFixed(1) },
        },
        y: {
          type: 'category', labels: KEGG_TERMS, offset: true,
          afterFit: (s: any) => { s.width = 912; },
          grid: { color: COL.grid, lineWidth: 7, drawTicks: false, offset: false },
          border: { display: false, dash: [36, 34], dashOffset: 0 },
          ticks: { font: { size: 45, family: SERIF }, color: '#000', padding: 20, autoSkip: false },
        },
      },
    },
    plugins: [
      spacingPlugin(1.3), framePlugin(7), keggLegend,
      textPlugin('eText', [
        { t: 'E', x: 281, y: 72, size: 82, bold: true, align: 'left' },
        { t: 'Protein Ratio', x: 1217, y: 1823, size: 42, bold: true, spacing: 2 },
      ]),
    ],
  };
}

// ---------------- components ----------------
function ChartCanvas({ left, top, width, height, make }: { left: number; top: number; width: number; height: number; make: () => any }) {
  const ref = useRef<HTMLCanvasElement>(null);
  useEffect(() => {
    if (!ref.current) return;
    const chart = new Chart(ref.current, make());
    return () => chart.destroy();
  }, []);
  return (
    <canvas
      ref={ref}
      width={width}
      height={height}
      style={{ position: 'absolute', left, top, width, height }}
    />
  );
}

export default function App() {
  useEffect(() => {
    document.body.style.margin = '0';
    document.body.style.background = '#fff';
  }, []);
  return (
    <div style={{ position: 'absolute', left: 0, top: 0, width: 3343, height: 2842, background: '#fff', overflow: 'hidden' }}>
      <ChartCanvas left={0} top={0} width={1100} height={900} make={vennConfig} />
      <ChartCanvas left={1220} top={0} width={1140} height={980} make={volcanoConfig} />
      <ChartCanvas left={2380} top={0} width={963} height={980} make={barConfig} />
      <ChartCanvas left={0} top={1000} width={D_W} height={D_H} make={bpConfig} />
      <ChartCanvas left={0} top={1000} width={D_W} height={D_H} make={mfConfig} />
      <ChartCanvas left={0} top={1000} width={D_W} height={D_H} make={ccConfig} />
      <ChartCanvas left={1600} top={1000} width={1743} height={1842} make={keggConfig} />
    </div>
  );
}
